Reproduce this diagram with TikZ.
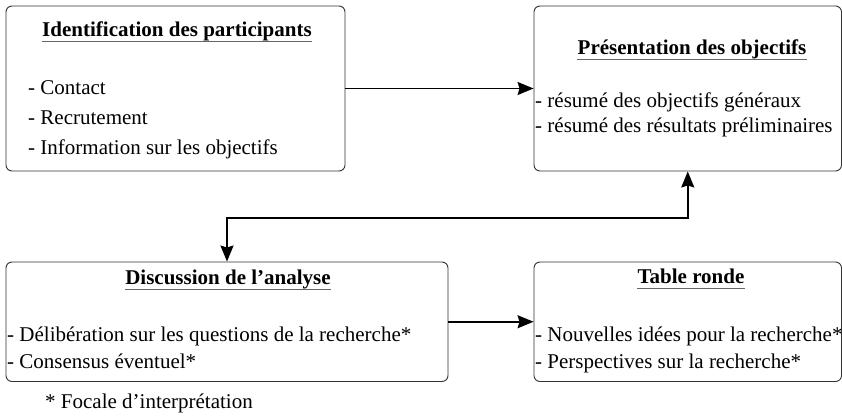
\documentclass[tikz,border=0pt]{standalone}
\usepackage{fontspec}
\setmainfont{Liberation Serif}
\usetikzlibrary{arrows.meta,positioning}
\tikzset{
    >={Stealth[length=16pt,width=13pt,inset=2pt]},
    boite/.style={
           rectangle,
           rounded corners=6pt,
           draw=black!80, line width=0.9pt,
           inner sep=0pt},
    titre/.style={
           font=\fontsize{21}{25}\selectfont\bfseries,
           anchor=base,
           inner sep=0pt},
    texte/.style={
           font=\fontsize{21}{25}\selectfont,
           anchor=base west,
           inner sep=0pt},
    souligne/.style={
           draw=black!60,
           line width=1.3pt},
    pil/.style={
           ->,
           line width=1.8pt}
}

\begin{document}
\begin{tikzpicture}[x=1pt, y=1pt]
        \useasboundingbox (0,0) rectangle (842,417);

        \node[boite, minimum width=339pt, minimum height=165pt] (ident) at (175.5,328.5) {};
        \node[boite, minimum width=307.5pt, minimum height=165pt] (pres) at (687.75,328.5) {};
        \node[boite, minimum width=442pt, minimum height=119.5pt] (disc) at (227,95.25) {};
        \node[boite, minimum width=307.5pt, minimum height=119.5pt] (table) at (687.75,95.25) {};

        \node[titre] (t1) at (177,380) {Identification des participants};
        \node[texte] (c1) at (28,322) {- Contact};
        \node[texte] (c2) at (28,292) {- Recrutement};
        \node[texte] (c3) at (28,262) {- Information sur les objectifs};

        \node[titre] (t2) at (692,362) {Présentation des objectifs};
        \node[texte] (p1) at (535,309) {- résumé des objectifs généraux};
        \node[texte] (p2) at (535,284) {- résumé des résultats préliminaires};

        \node[titre] (t3) at (228,132) {Discussion de l’analyse};
        \node[texte] (d1) at (7,75) {- Délibération sur les questions de la recherche*};
        \node[texte] (d2) at (7,48) {- Consensus éventuel*};

        \node[titre] (t4) at (691,133) {Table ronde};
        \node[texte] (r1) at (535,75) {- Nouvelles idées pour la recherche*};
        \node[texte] (r2) at (535,48) {- Perspectives sur la recherche*};

        \node[texte] (note) at (45,9) {* Focale d’interprétation};

        \foreach \t in {t1,t2,t3,t4}
            \draw[souligne] ([yshift=-4.5pt]\t.base west) -- ([yshift=-4.5pt]\t.base east);

        \coordinate (coude) at (0,199);
        \draw[pil] (ident) -- (pres);
        \draw[pil] (disc) -- (table);
        \draw[pil, <->] (disc.north) |- (coude -| pres.south) -- (pres.south);

    \end{tikzpicture}
\end{document}
